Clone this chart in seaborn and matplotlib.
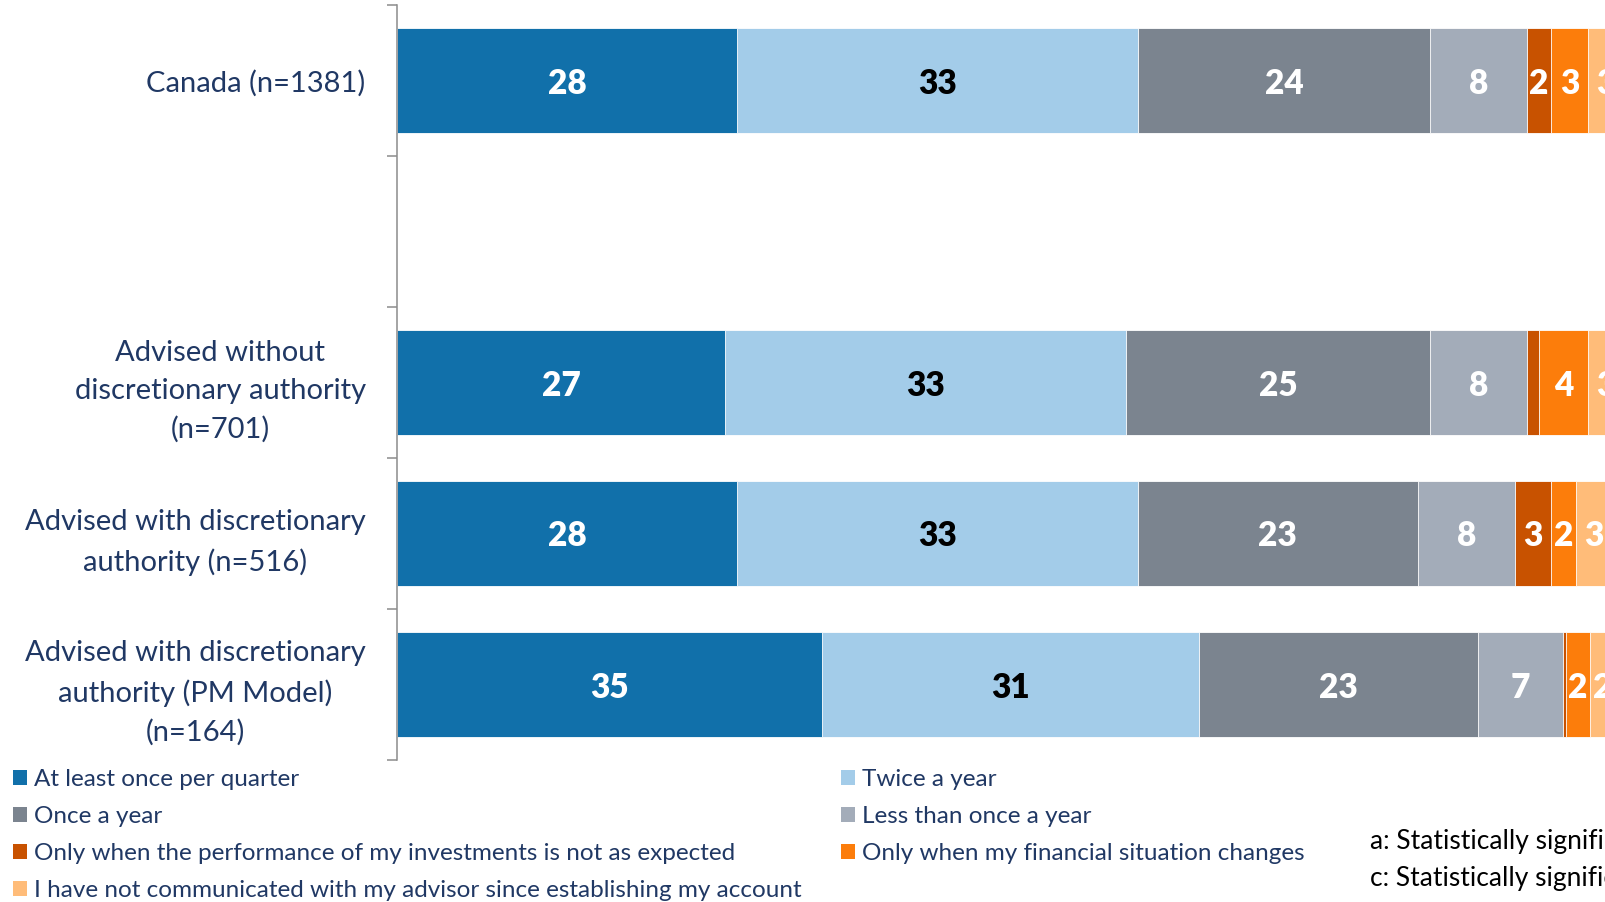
import numpy as np
import pandas as pd
import matplotlib
matplotlib.use("Agg")
import matplotlib.pyplot as plt
from matplotlib.patches import Patch
import seaborn as sns

# Respondent groups (blank slot keeps the gap under Canada)
groups = ["Canada (n=1381)",
          "Advised without\ndiscretionary authority\n(n=701)",
          "Advised with discretionary\nauthority (n=516)",
          "Advised with discretionary\nauthority (PM Model)\n(n=164)"]
row_order = [groups[0], " ", groups[1], groups[2], groups[3]]

# Share of respondents (%) by frequency of reviewing with advisor
responses = ["At least once per quarter",
             "Twice a year",
             "Once a year",
             "Less than once a year",
             "Only when the performance of my investments is not as expected",
             "Only when my financial situation changes",
             "I have not communicated with my advisor since establishing my account"]
quarter = [28, 27, 28, 35]
twice = [33, 33, 33, 31]
once = [24, 25, 23, 23]
less_once = [8, 8, 8, 7]
performance = [2, 1, 3, 0.2]
situation = [3, 4, 2, 2]
never = [3, 3, 3, 2]
series = [quarter, twice, once, less_once, performance, situation, never]

colors = ["#1170aa", "#a3cce9", "#7b848f", "#a3acb9", "#c85200", "#fc7d0b", "#ffbc79"]
text_colors = ["white", "black", "white", "white", "white", "white", "white"]

sns.set_style("white")
plt.rcParams["font.family"] = ["Lato", "DejaVu Sans"]

navy = "#203864"

fig = plt.figure(figsize=(16.06, 9.02), dpi=100)
ax = fig.add_axes([397 / 1606, 1 - 760 / 902, 1215 / 1606, (760 - 5) / 902])

vals = np.array(series, dtype=float)
cum = np.cumsum(vals, axis=0)

# Stacked bars: draw the running totals from the outermost layer inward
for i in reversed(range(len(series))):
    df = pd.DataFrame({"group": groups, "total": cum[i]})
    sns.barplot(data=df, x="total", y="group", order=row_order, orient="h",
                color=colors[i], width=0.7, errorbar=None, saturation=1,
                edgecolor="white", linewidth=0.6, ax=ax)

# Segment value labels
for i in range(len(series)):
    for j, g in enumerate(groups):
        v = vals[i, j]
        if v < 2:
            continue
        y = row_order.index(g)
        xc = cum[i, j] - v / 2
        ax.text(xc, y, f"{v:g}", ha="center", va="center_baseline",
                color=text_colors[i], fontsize=24, fontweight="heavy", clip_on=False)

ax.set_xlim(0, 100)
ax.set_ylim(len(row_order) - 0.5, -0.5)
ax.set_xlabel("")
ax.set_ylabel("")
ax.set_xticks([])
ax.set_yticks(range(len(row_order)))
ax.set_yticklabels(row_order, fontsize=21, color=navy)
for t in ax.get_yticklabels():
    t.set_multialignment("center")
    t.set_linespacing(1.57)
ax.set_yticks(np.arange(-0.5, len(row_order)), minor=True)
ax.tick_params(axis="y", which="major", length=0, pad=22.5)
ax.tick_params(axis="y", which="minor", length=7.5, width=1.1, color="#8c8c8c", left=True)
for s in ["top", "right", "bottom"]:
    ax.spines[s].set_visible(False)
ax.spines["left"].set_color("#8c8c8c")
ax.spines["left"].set_linewidth(1.1)

# Legend below the plot, two columns
order_idx = [0, 2, 4, 6, 1, 3, 5]
handles = [Patch(facecolor=colors[k], edgecolor="none") for k in order_idx]
labels = [responses[k] for k in order_idx]
fig.legend(handles, labels, ncol=2, loc="upper left",
           bbox_to_anchor=(8 / 1606, 1 - 764 / 902), frameon=False,
           fontsize=17.5, labelcolor=navy, handlelength=0.58, handleheight=0.58,
           handletextpad=0.3, columnspacing=1.6, labelspacing=0.665,
           borderaxespad=0, borderpad=0.2)

fig.text(1370 / 1606, 1 - 842 / 902,
         "a: Statistically significantly different from Advised without discretionary authority",
         fontsize=19, color="black", va="center", ha="left")
fig.text(1370 / 1606, 1 - 878 / 902,
         "c: Statistically significantly different from Advised with discretionary authority (PM Model)",
         fontsize=19, color="black", va="center", ha="left")

fig.savefig("out.png", dpi=100)
